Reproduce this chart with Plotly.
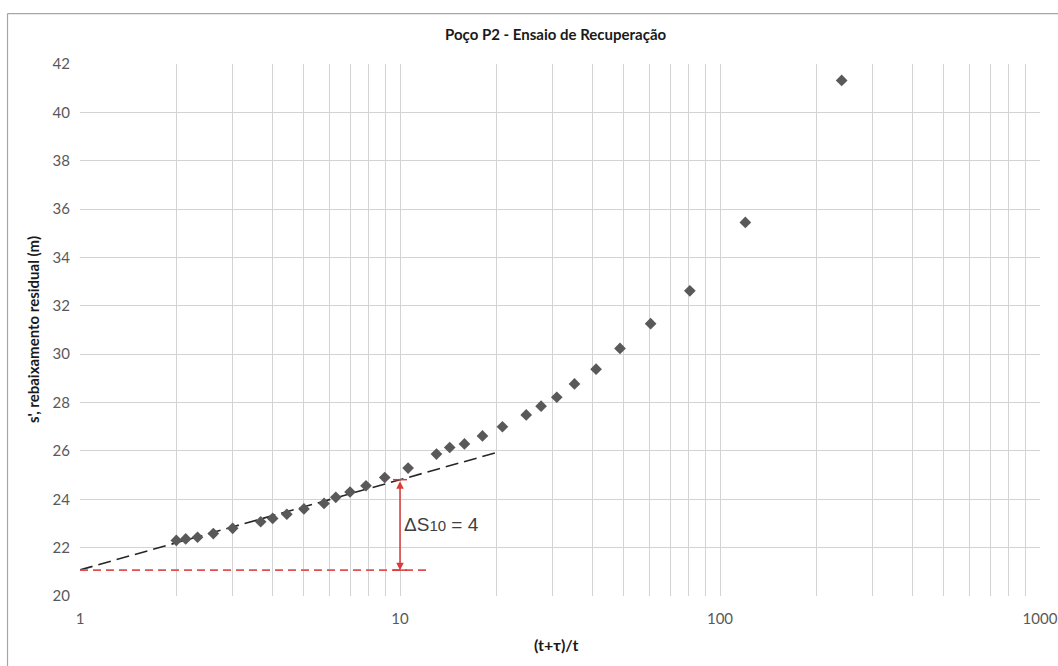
import plotly.graph_objects as go
import math

# ---- data ----
ratio = [240, 120, 80.5, 60.7, 48.7, 41.0, 35.1, 30.9, 27.6, 24.8,
         20.9, 18.1, 15.9, 14.3, 13.0, 10.6, 8.96, 7.83, 6.98, 6.3,
         5.79, 5.01, 4.43, 4.0, 3.67, 3.0, 2.61, 2.33, 2.14, 2.0]
s_resid = [41.32, 35.45, 32.62, 31.26, 30.24, 29.38, 28.77, 28.22, 27.85, 27.49,
           27.0, 26.62, 26.29, 26.14, 25.87, 25.29, 24.9, 24.56, 24.3, 24.08,
           23.83, 23.6, 23.38, 23.21, 23.07, 22.8, 22.58, 22.43, 22.36, 22.3]

fit_x = [1, 20]
fit_y = [21.08, 25.93]

base_x = [1, 12.1]
base_y = [21.07, 21.07]

arrow_x = 10
arrow_top = 24.81
arrow_bottom = 21.07
delta_label = "ΔS<span style='font-size:15px'>10</span> = 4"

x_major = [1, 10, 100, 1000]
x_minor = [m * d for d in (1, 10, 100) for m in range(2, 10)]
y_ticks = list(range(20, 43, 2))

title_text = "Poço P2 - Ensaio de Recuperação"
x_title = "(t+τ)/t"
y_title = "s', rebaixamento residual (m)"

FONT = "Lato"
GRID = "#d3d3d3"

fig = go.Figure()

fig.add_trace(go.Scatter(
    x=fit_x, y=fit_y, mode="lines",
    line=dict(color="#262626", width=1.6, dash="13px,6px"),
    hoverinfo="skip", showlegend=False))

fig.add_trace(go.Scatter(
    x=base_x, y=base_y, mode="lines",
    line=dict(color="#e05050", width=1.6, dash="8px,5px"),
    hoverinfo="skip", showlegend=False))

fig.add_trace(go.Scatter(
    x=[arrow_x, arrow_x], y=[arrow_top, arrow_bottom], mode="markers",
    marker=dict(symbol="line-ew", size=10, line=dict(color="#d93a3a", width=1.5)),
    hoverinfo="skip", showlegend=False))

fig.add_trace(go.Scatter(
    x=ratio, y=s_resid, mode="markers",
    marker=dict(symbol="diamond", size=9, color="#595959"),
    showlegend=False))

fig.add_annotation(
    x=math.log10(arrow_x), y=arrow_bottom, ax=math.log10(arrow_x), ay=arrow_top,
    xref="x", yref="y", axref="x", ayref="y",
    showarrow=True, arrowhead=2, arrowsize=1, arrowwidth=1.5,
    arrowside="end+start", arrowcolor="#d93a3a", text="", standoff=0, startstandoff=0)

fig.add_annotation(
    x=math.log10(arrow_x), y=(arrow_top + arrow_bottom) / 2,
    xref="x", yref="y", xanchor="left", yanchor="middle", xshift=2,
    text=delta_label, showarrow=False,
    font=dict(family="Liberation Sans", size=19, color="#404040"))

# titles
fig.add_annotation(text=f"<b>{title_text}</b>", xref="paper", yref="paper",
                   x=0.4958, y=1.0, yshift=30, xanchor="center", yanchor="middle",
                   showarrow=False, font=dict(family=FONT, size=15, color="#1a1a1a"))
fig.add_annotation(text=f"<b>{x_title}</b>", xref="paper", yref="paper",
                   x=0.496, y=0, yshift=-48, xanchor="center", yanchor="middle",
                   showarrow=False, font=dict(family=FONT, size=16, color="#1a1a1a"))
fig.add_annotation(text=f"<b>{y_title}</b>", xref="paper", yref="paper",
                   x=0, y=0.5, xshift=-47, xanchor="center", yanchor="middle",
                   textangle=-90, showarrow=False,
                   font=dict(family=FONT, size=15, color="#1a1a1a"))

# outer chart frame (left + top edges visible)
fig.add_shape(type="line", xref="paper", yref="paper",
              x0=-0.0755, x1=1.1, y0=1.0948, y1=1.0948,
              line=dict(color="#a6a6a6", width=1.2))
fig.add_shape(type="line", xref="paper", yref="paper",
              x0=-0.0755, x1=-0.0755, y0=-0.2, y1=1.0948,
              line=dict(color="#a6a6a6", width=1.2))

fig.update_xaxes(
    type="log", range=[0, 3],
    tickmode="array", tickvals=x_major, ticktext=[str(v) for v in x_major],
    showgrid=True, gridcolor=GRID, gridwidth=1.4,
    minor=dict(tickmode="array", tickvals=x_minor, showgrid=True,
               gridcolor=GRID, gridwidth=1.4, ticks=""),
    ticks="", showline=False, zeroline=False,
    ticklabelstandoff=12,
    tickfont=dict(family=FONT, size=15, color="#595959"))

fig.update_yaxes(
    range=[20, 42], tickmode="array", tickvals=y_ticks,
    showgrid=True, gridcolor=GRID, gridwidth=1.4,
    ticks="", showline=False, zeroline=False,
    ticklabelstandoff=9,
    tickfont=dict(family=FONT, size=15, color="#595959"))

fig.update_layout(
    width=1058, height=666,
    margin=dict(l=80, r=18, t=64, b=70, autoexpand=False),
    paper_bgcolor="white", plot_bgcolor="white",
    showlegend=False)

fig.write_html("out.html")
